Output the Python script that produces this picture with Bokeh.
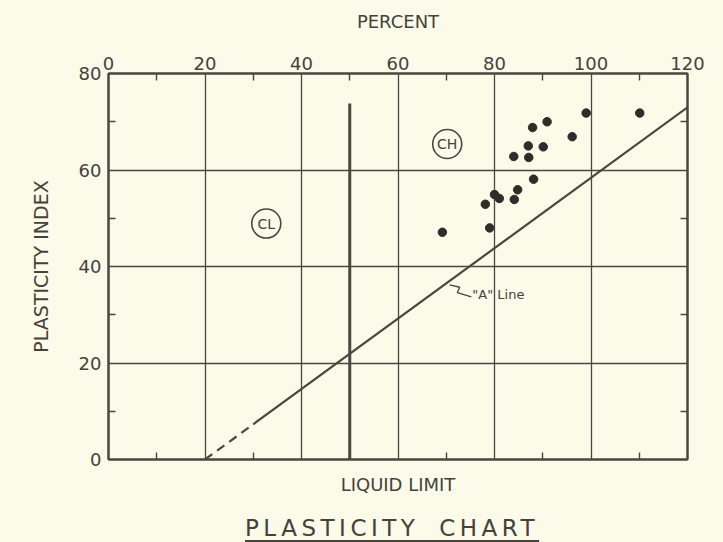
from bokeh.plotting import figure
from bokeh.models import (Range1d, LinearAxis, FixedTicker, Div, CustomJSTickFormatter)
from bokeh.layouts import column
from bokeh.core.properties import value
from bokeh.embed import file_html
from bokeh.resources import INLINE

# ---- data ----
liquid_limit = [69.2, 79.0, 78.1, 80.0, 81.0, 84.1, 84.8, 88.1, 84.0, 87.1,
                87.0, 90.1, 87.9, 90.9, 96.1, 99.0, 110.1]
plasticity_index = [47.1, 48.0, 52.9, 54.9, 54.1, 53.9, 55.9, 58.1, 62.8, 62.6,
                    65.0, 64.8, 68.8, 70.0, 66.9, 71.8, 71.8]

a_line_dashed_x = [20, 30]
a_line_dashed_y = [0, 7.3]
a_line_solid_x = [30, 120]
a_line_solid_y = [7.3, 73]

ll_divider_x = [50, 50]
ll_divider_y = [0, 73.8]

leader_x = [70.7, 72.8, 72.3, 75.2]
leader_y = [36.2, 35.7, 34.6, 33.7]

x_major = [0, 20, 40, 60, 80, 100, 120]
x_minor = [10, 30, 50, 70, 90, 110]
y_major = [0, 20, 40, 60, 80]
y_minor = [10, 30, 50, 70]

zone_labels = ["CL", "CH"]
zone_x = [32.7, 70.2]
zone_y = [48.9, 65.4]

chart_title = "PLASTICITY CHART"

# ---- style ----
BG = "#fcfae8"
INK = "#4a4741"
TXT = "#45423c"
FONT = "DejaVu Sans"

p = figure(width=723, height=505, x_range=Range1d(0, 120), y_range=Range1d(0, 80),
           x_axis_location="above", y_axis_location="left",
           output_backend="svg", toolbar_location=None,
           min_border_left=108, min_border_right=36, min_border_top=73,
           min_border_bottom=46)
p.background_fill_color = BG
p.border_fill_color = BG
p.outline_line_color = INK
p.outline_line_width = 2

# grid
p.xgrid.ticker = FixedTicker(ticks=[20, 40, 60, 80, 100])
p.ygrid.ticker = FixedTicker(ticks=[20, 40, 60])
for g in (p.xgrid, p.ygrid):
    g.grid_line_color = INK
    g.grid_line_width = 1.3

def style_axis(ax, labels=True):
    ax.axis_line_color = INK
    ax.axis_line_width = 2
    ax.major_tick_line_color = None
    ax.major_tick_out = 0
    ax.major_tick_in = 0
    ax.minor_tick_line_color = INK
    ax.minor_tick_line_width = 1.4
    ax.minor_tick_in = 7
    ax.minor_tick_out = 0
    ax.major_label_text_font = FONT
    ax.major_label_text_color = TXT
    ax.major_label_text_font_size = "18px"
    ax.axis_label_text_font = FONT
    ax.axis_label_text_color = TXT
    ax.axis_label_text_font_style = "normal"
    if not labels:
        ax.major_label_text_font_size = "0px"
        ax.formatter = CustomJSTickFormatter(code="return ''")

# top axis
top = p.xaxis[0]
top.ticker = FixedTicker(ticks=x_major, minor_ticks=x_minor)
style_axis(top)
top.major_label_standoff = 4
top.axis_label = "PERCENT"
top.axis_label_text_font_size = "18px"
top.axis_label_standoff = 22

# left axis
left = p.yaxis[0]
left.ticker = FixedTicker(ticks=y_major, minor_ticks=y_minor)
style_axis(left)
left.major_label_standoff = 7
left.axis_label = "PLASTICITY INDEX"
left.axis_label_text_font_size = "19px"
left.axis_label_standoff = 24

# bottom axis
bottom = LinearAxis(ticker=FixedTicker(ticks=x_major, minor_ticks=x_minor))
style_axis(bottom, labels=False)
bottom.axis_label = "LIQUID LIMIT"
bottom.axis_label_text_font_size = "18px"
bottom.axis_label_standoff = 14
p.add_layout(bottom, "below")

# right axis
right = LinearAxis(ticker=FixedTicker(ticks=y_major, minor_ticks=y_minor))
style_axis(right, labels=False)
p.add_layout(right, "right")

# A line
p.line(a_line_dashed_x, a_line_dashed_y, line_color=INK, line_width=2.2, line_dash="9 6")
p.line(a_line_solid_x, a_line_solid_y, line_color=INK, line_width=2.2)
# LL = 50 divider
p.line(ll_divider_x, ll_divider_y, line_color=INK, line_width=3)
# leader
p.line(leader_x, leader_y, line_color=INK, line_width=1.3)
p.text(x=[75.4], y=[34.2], text=['"A" Line'], text_font=value(FONT),
       text_font_size="13px", text_color=TXT, text_baseline="middle", text_align="left")

# data points
p.scatter(liquid_limit, plasticity_index, size=8.5, marker="circle",
          fill_color="#2f2d2a", line_color="#2f2d2a")

# zone labels
p.scatter(zone_x, zone_y, size=29, marker="circle", fill_color=None,
          line_color=INK, line_width=1.6)
p.text(x=zone_x, y=zone_y, text=zone_labels, text_font=value(FONT),
       text_font_size="14px", text_color=TXT, text_align="center", text_baseline="middle")

# underlined chart title below the figure
title_html = (
    '<div style="width:478px; text-align:left; padding-top:8px; padding-left:245px; '
    'font-family:\'DejaVu Sans\'; font-size:23px; line-height:30px; color:%s; '
    'letter-spacing:4.5px; word-spacing:8px; white-space:nowrap;">'
    '<span style="text-decoration:underline; text-decoration-thickness:2px; '
    'text-underline-offset:4px;">%s</span></div>' % (TXT, chart_title)
)
title_div = Div(text=title_html, width=723, height=37,
                styles={"background-color": BG, "margin": "0", "padding": "0"})

layout = column(p, title_div, spacing=0, styles={"background-color": BG})

out = file_html(layout, INLINE)
open("out.html", "w").write(out)
